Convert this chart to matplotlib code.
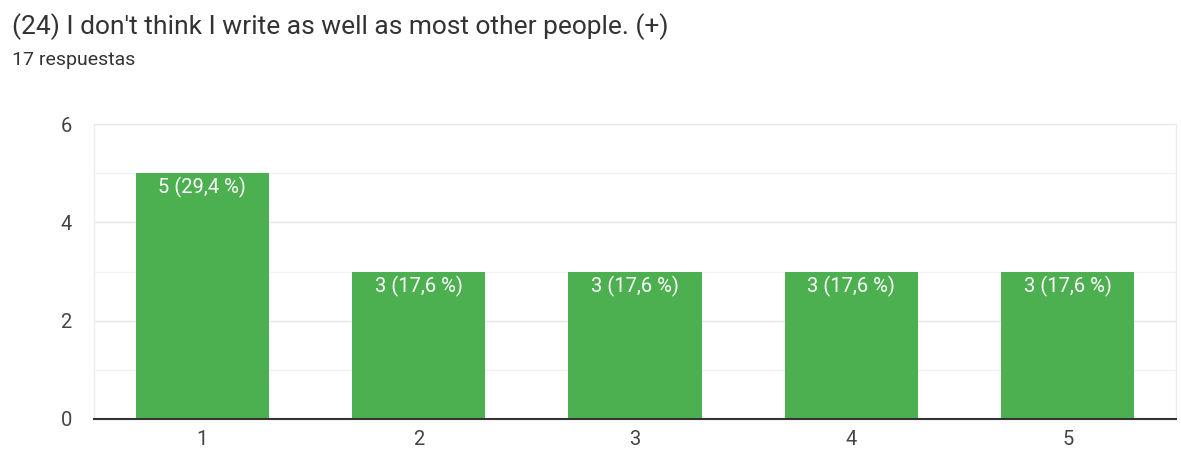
import matplotlib
matplotlib.use("Agg")
import matplotlib.pyplot as plt
from matplotlib.ticker import MultipleLocator

categories = ["1", "2", "3", "4", "5"]
counts = [5, 3, 3, 3, 3]
labels = ["5 (29,4 %)", "3 (17,6 %)", "3 (17,6 %)", "3 (17,6 %)", "3 (17,6 %)"]
title = "(24) I don't think I write as well as most other people. (+)"
subtitle = "17 respuestas"

plt.rcParams['font.family'] = ['Roboto', 'DejaVu Sans']

fig = plt.figure(figsize=(11.81, 4.5), dpi=100)
ax = fig.add_axes([94/1181, 1-419/450, (1176-94)/1181, (419-124)/450])

x = list(range(1, len(categories)+1))
bars = ax.bar(x, counts, width=0.615, color="#4CAF50", zorder=3)
for b, lab in zip(bars, labels):
    ax.annotate(lab, (b.get_x()+b.get_width()/2, b.get_height()),
                xytext=(0, -3), textcoords="offset points",
                ha="center", va="top", color="white", fontsize=14.5, zorder=4)

ax.set_xlim(0.5, 5.5)
ax.set_ylim(0, 6)
ax.set_xticks(x)
ax.set_xticklabels(categories)
ax.yaxis.set_major_locator(MultipleLocator(2))
ax.yaxis.set_minor_locator(MultipleLocator(1))
ax.grid(axis="y", which="major", color="#e6e6e6", linewidth=1, zorder=0)
ax.grid(axis="y", which="minor", color="#f2f2f2", linewidth=1, zorder=0)
for s in ["left", "right"]:
    ax.spines[s].set_color("#ececec")
    ax.spines[s].set_linewidth(1)
ax.spines["top"].set_visible(False)
ax.spines["bottom"].set_color("#333333")
ax.spines["bottom"].set_linewidth(1.5)
ax.spines["bottom"].set_zorder(5)
ax.tick_params(axis="both", which="both", length=0, labelsize=14.5, labelcolor="#444444")
ax.tick_params(axis="x", pad=8)
ax.tick_params(axis="y", pad=16)

fig.text(12/1181, 1-27/450, title, fontsize=19, color="#333333", ha="left", va="center")
fig.text(12/1181, 1-60/450, subtitle, fontsize=14, color="#333333", ha="left", va="center")

fig.savefig("out.png", dpi=100)
